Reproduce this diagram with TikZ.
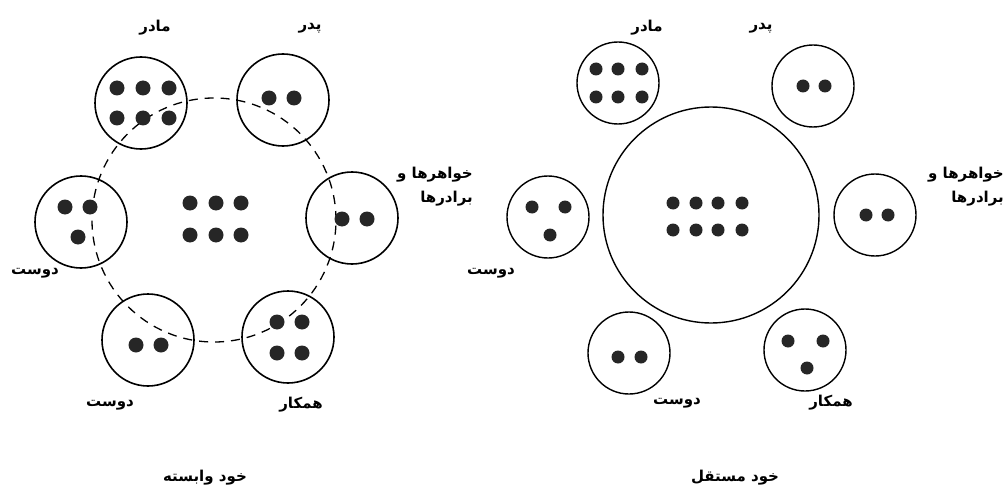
\documentclass[tikz,border=0pt]{standalone}
\usepackage{fontspec}
\newfontfamily\arabicfont[Script=Arabic]{DejaVu Sans}
\TeXXeTstate=1
\usetikzlibrary{positioning,calc}
\newcommand{\fa}[1]{\beginR #1\endR}

\begin{document}
\begin{tikzpicture}[
    x=1pt, y=-1pt,
    member/.style={circle, draw, line width=1.6pt, minimum size=92pt, inner sep=0pt},
    membersm/.style={circle, draw, line width=1.4pt, minimum size=82pt, inner sep=0pt},
    ring/.style={circle, draw, line width=1.3pt, dash pattern=on 9pt off 7pt, minimum size=244pt, inner sep=0pt},
    selfbig/.style={circle, draw, line width=1.4pt, minimum size=216pt, inner sep=0pt},
    dot/.style={circle, fill=black!85, inner sep=0pt, minimum size=15pt},
    dotsm/.style={dot, minimum size=13pt},
    lbl/.style={font=\arabicfont\bfseries\fontsize{15}{24}\selectfont, inner sep=1pt}
]
\useasboundingbox (0,0) rectangle (1006,492);

% interdependent self
\node[ring] (ring1) at (214,220) {};
\foreach \x in {190,216,241}
    \foreach \y in {203,235}
        \node[dot] at (\x,\y) {};
\node[member] (mom1) at (141,103) {};
\foreach \x in {117,143,169}
    \foreach \y in {88,118}
        \node[dot] at (\x,\y) {};
\node[member] (dad1) at (283,100) {};
\node[dot] at (269,98) {};
\node[dot] at (294,98) {};
\node[member] (sib1) at (352,218) {};
\node[dot] at (342,219) {};
\node[dot] at (367,219) {};
\node[member] (frA1) at (81,222) {};
\node[dot] at (65,207) {};
\node[dot] at (90,207) {};
\node[dot] at (78,237) {};
\node[member] (frB1) at (148,340) {};
\node[dot] at (136,345) {};
\node[dot] at (161,345) {};
\node[member] (col1) at (288,337) {};
\foreach \x in {277,302}
    \foreach \y in {322,353}
        \node[dot] at (\x,\y) {};

\node[lbl] (momL1) at (155,28) {\fa{مادر}};
\node[lbl] (dadL1) at (310,28) {\fa{پدر}};
\node[lbl, align=right, anchor=east] (sibL1) at (474,187) {\fa{خواهرها و}\\\fa{برادرها}};
\node[lbl] (frAL1) at (35,273) {\fa{دوست}};
\node[lbl] (frBL1) at (110,405) {\fa{دوست}};
\node[lbl] (colL1) at (301,405) {\fa{همکار}};
\node[lbl] (title1) at (205,478) {\fa{خود وابسته}};

% independent self
\node[selfbig] (self2) at (711,215) {};
\foreach \x in {673,696,718,742}
    \foreach \y in {203,230}
        \node[dotsm] at (\x,\y) {};
\node[membersm] (mom2) at (618,83) {};
\foreach \x in {596,618,642}
    \foreach \y in {69,97}
        \node[dotsm] at (\x,\y) {};
\node[membersm] (dad2) at (813,86) {};
\node[dotsm] at (803,86) {};
\node[dotsm] at (825,86) {};
\node[membersm] (sib2) at (875,215) {};
\node[dotsm] at (866,215) {};
\node[dotsm] at (888,215) {};
\node[membersm] (frA2) at (548,217) {};
\node[dotsm] at (532,207) {};
\node[dotsm] at (565,207) {};
\node[dotsm] at (550,235) {};
\node[membersm] (frB2) at (629,353) {};
\node[dotsm] at (618,357) {};
\node[dotsm] at (641,357) {};
\node[membersm] (col2) at (805,350) {};
\node[dotsm] at (788,341) {};
\node[dotsm] at (823,341) {};
\node[dotsm] at (807,368) {};

\node[lbl] (momL2) at (647,28) {\fa{مادر}};
\node[lbl] (dadL2) at (761,28) {\fa{پدر}};
\node[lbl, align=right, anchor=east] (sibL2) at (1005,187) {\fa{خواهرها و}\\\fa{برادرها}};
\node[lbl] (frAL2) at (491,273) {\fa{دوست}};
\node[lbl] (frBL2) at (677,403) {\fa{دوست}};
\node[lbl] (colL2) at (831,403) {\fa{همکار}};
\node[lbl] (title2) at (735,478) {\fa{خود مستقل}};

\end{tikzpicture}
\end{document}
